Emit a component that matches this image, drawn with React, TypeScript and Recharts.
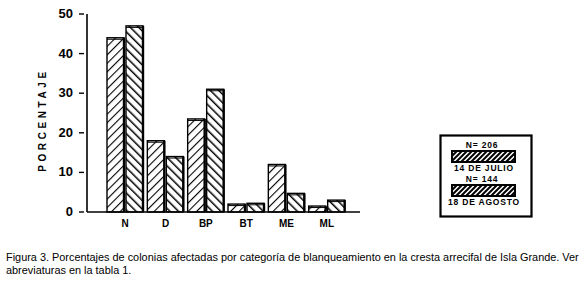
import { Bar, BarChart, XAxis, YAxis } from "recharts"

const categories = ["N", "D", "BP", "BT", "ME", "ML"]
const julio = [44, 18, 23.5, 2, 12, 1.5]
const agosto = [47, 14, 31, 2.2, 4.7, 3]
const yTicks = [0, 10, 20, 30, 40, 50]
const seriesNames = ["14 DE JULIO", "18 DE AGOSTO"]
const sampleSizes = ["N= 206", "N= 144"]

const data = categories.map((name, i) => ({ name, julio: julio[i], agosto: agosto[i] }))

const font = "'Liberation Sans', Arial, sans-serif"

function HatchBar(props: any) {
  const { x, y, width, height, fill } = props
  if (!height || height <= 0) return null
  return (
    <g>
      <rect x={x + 1} y={y} width={width - 2} height={height} fill="#fff" stroke="none" />
      <rect x={x + 1} y={y} width={width - 2} height={height} fill={fill} stroke="#000" strokeWidth={1.4} />
      <line x1={x + width - 1} y1={y} x2={x + width - 1} y2={y + height} stroke="#000" strokeWidth={2.4} />
      <line x1={x + 1} y1={y + 1.5} x2={x + width - 1} y2={y + 1.5} stroke="#000" strokeWidth={1} />
    </g>
  )
}

function YTick(props: any) {
  const { x, y, payload } = props
  return (
    <g>
      <text x={x - 6} y={y} dy={4} textAnchor="end" fontFamily={font} fontWeight="bold" fontSize={13} fill="#000">
        {payload.value}
      </text>
      <line x1={x} y1={y} x2={x + 5} y2={y} stroke="#000" strokeWidth={1.4} />
    </g>
  )
}

function Swatch({ id, y }: { id: string; y: number }) {
  const x0 = 13
  const w = 63
  const h = 11
  const lines = []
  for (let lx = x0 - h; lx < x0 + w + h; lx += 5) {
    lines.push(<line key={lx} x1={lx} y1={y + h} x2={lx + h} y2={y} stroke="#000" strokeWidth={2} />)
  }
  return (
    <g>
      <clipPath id={id}>
        <rect x={x0} y={y} width={w} height={h} />
      </clipPath>
      <rect x={x0} y={y} width={w} height={h} fill="#fff" />
      <g clipPath={`url(#${id})`}>{lines}</g>
      <rect x={x0} y={y} width={w} height={h} fill="none" stroke="#000" strokeWidth={2} />
    </g>
  )
}

function LegendBox() {
  return (
    <svg width={94} height={84} style={{ display: "block" }}>
      <rect x={1.5} y={1.5} width={91} height={81} fill="#fff" stroke="#000" strokeWidth={2.2} />
      {seriesNames.map((name, i) => (
        <g key={name}>
          <text x={43} y={14 + i * 34} textAnchor="middle" fontFamily={font} fontWeight="bold" fontSize={8.5} letterSpacing={0.8} fill="#000">
            {sampleSizes[i]}
          </text>
          <Swatch id={`legclip${i}`} y={17 + i * 34} />
          <text x={45} y={37 + i * 34} textAnchor="middle" fontFamily={font} fontWeight="bold" fontSize={8.5} letterSpacing={0.8} fill="#000">
            {name}
          </text>
        </g>
      ))}
    </svg>
  )
}

export default function App() {
  return (
    <div style={{ position: "absolute", left: 0, top: 0, width: 580, height: 284, background: "#fff" }}>
      <BarChart
        width={580}
        height={240}
        data={data}
        margin={{ top: 14, right: 220, bottom: 8, left: 47 }}
        barCategoryGap={1}
        barGap={0}
      >
        <defs>
          <pattern id="hatchA" patternUnits="userSpaceOnUse" width={6} height={6} patternTransform="rotate(45)">
            <rect width={6} height={6} fill="#fff" />
            <line x1={0} y1={0} x2={0} y2={6} stroke="#000" strokeWidth={2.2} />
          </pattern>
          <pattern id="hatchB" patternUnits="userSpaceOnUse" width={6} height={6} patternTransform="rotate(-45)">
            <rect width={6} height={6} fill="#fff" />
            <line x1={0} y1={0} x2={0} y2={6} stroke="#000" strokeWidth={3} />
          </pattern>
        </defs>
        <XAxis
          dataKey="name"
          height={20}
          padding={{ left: 18, right: 13 }}
          axisLine={{ stroke: "#000", strokeWidth: 1.6 }}
          tickLine={false}
          tick={{ fill: "#000", fontFamily: font, fontWeight: "bold", fontSize: 10 }}
          interval={0}
        />
        <YAxis
          width={40}
          domain={[0, 50]}
          ticks={yTicks}
          interval={0}
          axisLine={{ stroke: "#000", strokeWidth: 1.6 }}
          tickLine={false}
          tick={<YTick />}
          label={() => (
            <text
              x={46}
              y={120}
              transform="rotate(-90 46 120)"
              textAnchor="middle"
              fontFamily={font}
              fontWeight="bold"
              fontSize={10}
              letterSpacing={3.6}
              fill="#000"
            >
              PORCENTAJE
            </text>
          )}
        />
        <Bar dataKey="julio" name={seriesNames[0]} fill="url(#hatchA)" shape={<HatchBar />} isAnimationActive={false} />
        <Bar dataKey="agosto" name={seriesNames[1]} fill="url(#hatchB)" shape={<HatchBar />} isAnimationActive={false} />
      </BarChart>
      <div style={{ position: "absolute", left: 439, top: 134 }}>
        <LegendBox />
      </div>
      <div
        style={{
          position: "absolute",
          left: 6,
          top: 251,
          width: 576,
          fontFamily: font,
          fontSize: 10.9,
          lineHeight: "13px",
          color: "#000",
          whiteSpace: "nowrap",
        }}
      >
        Figura 3. Porcentajes de colonias afectadas por categoría de blanqueamiento en la cresta arrecifal de Isla Grande. Ver
        <br />
        abreviaturas en la tabla 1.
      </div>
    </div>
  )
}
